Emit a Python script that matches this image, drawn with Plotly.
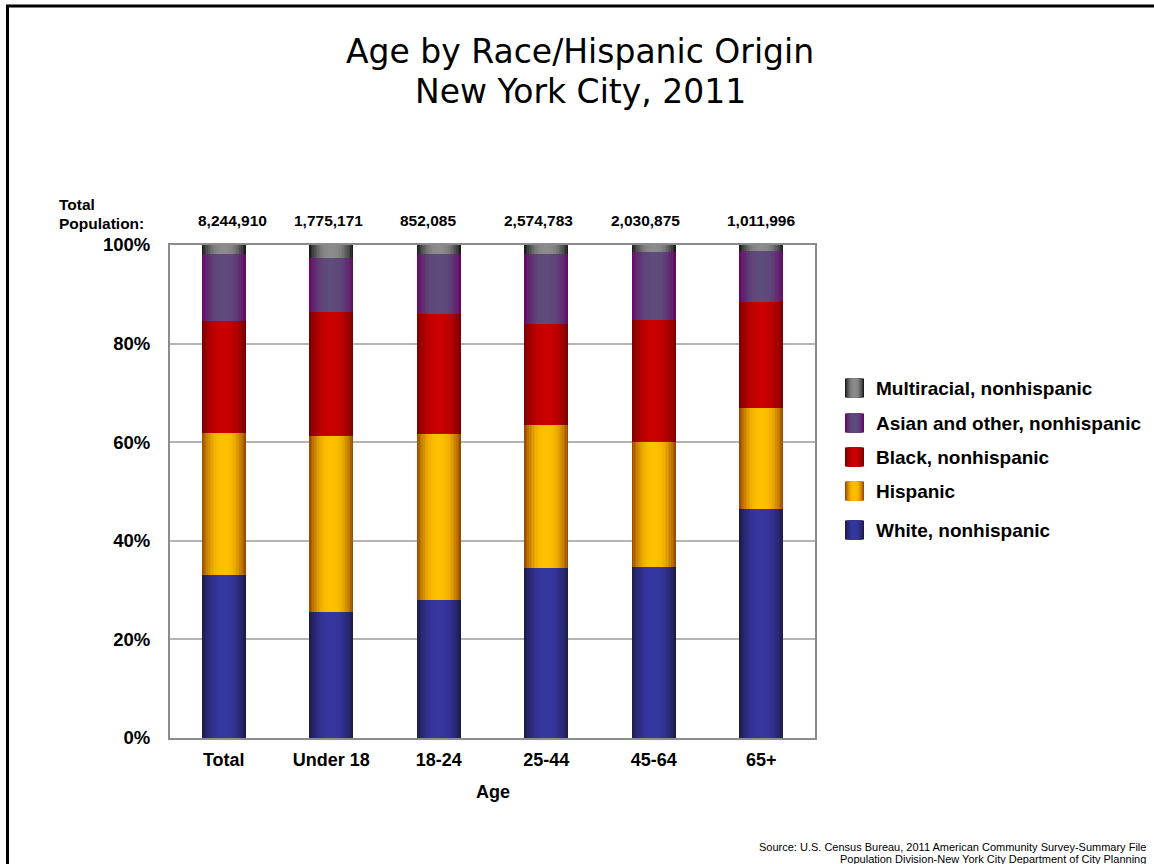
import numpy as np
import plotly.graph_objects as go

# ---- data -------------------------------------------------------------
ages = ["Total", "Under 18", "18-24", "25-44", "45-64", "65+"]
total_population = [8244910, 1775171, 852085, 2574783, 2030875, 1011996]

# percent of each age group (stacked bottom -> top)
white = [33.1, 25.6, 28.0, 34.5, 34.7, 46.4]
hispanic = [28.8, 35.7, 33.7, 29.0, 25.3, 20.5]
black = [22.7, 25.1, 24.3, 20.5, 24.8, 21.5]
asian_other = [13.6, 11.0, 12.2, 14.2, 13.8, 10.4]
multiracial = [1.8, 2.6, 1.8, 1.8, 1.4, 1.2]

series_names = [
    "White, nonhispanic",
    "Hispanic",
    "Black, nonhispanic",
    "Asian and other, nonhispanic",
    "Multiracial, nonhispanic",
]
series_values = [white, hispanic, black, asian_other, multiracial]

# edge (dark) and centre (light) colours of the cylinder shading
edge_colors = ["#1b1b4c", "#9a4c00", "#7c0000", "#640a66", "#1c1c1c"]
center_colors = ["#3636a0", "#ffc000", "#c80000", "#5e4c7c", "#8c8c8c"]

# ---- helpers ----------------------------------------------------------
def hex_to_rgb(h):
    h = h.lstrip("#")
    return np.array([int(h[i:i + 2], 16) for i in (0, 2, 4)], dtype=float)


def blend(c0, c1, f):
    a, b = hex_to_rgb(c0), hex_to_rgb(c1)
    r, g, bl = (a + (b - a) * f).round().astype(int)
    return f"rgb({r},{g},{bl})"


N_LAYERS = 14
BAR_WIDTH = 0.41


def shade_profile(half_width):
    # 0 at the outer edge, 1 at the centre, with a broad flat highlight
    return float(np.clip(1.0 - (2.0 * half_width) ** 2.6, 0.0, 1.0))


# ---- figure -----------------------------------------------------------
fig = go.Figure()

stack = np.vstack([np.array(v, dtype=float) for v in series_values])
bases = np.vstack([np.zeros(len(ages)), np.cumsum(stack, axis=0)[:-1]])

for s, name in enumerate(series_names):
    vals = stack[s]
    base = bases[s]
    for k in range(N_LAYERS):
        frac = 1.0 - k / N_LAYERS
        color = blend(edge_colors[s], center_colors[s], shade_profile(frac / 2.0))
        top = k == N_LAYERS - 1
        fig.add_trace(
            go.Bar(
                x=ages,
                y=vals,
                base=base,
                width=BAR_WIDTH * frac,
                marker=dict(color=color, line=dict(width=0)),
                name=name,
                showlegend=False,
                hovertemplate=f"{name}<br>%{{x}}: %{{y:.1f}}%<extra></extra>" if top else None,
                hoverinfo=None if top else "skip",
            )
        )

bold = dict(family="Liberation Sans, Arial, sans-serif", color="#000000", weight="bold")

# plot-area geometry in pixels (used to place paper-referenced decorations)
L, R, T, B = 170, 339, 245, 126
W_PX, H_PX = 1154, 864
PW, PH = W_PX - L - R, H_PX - T - B


def px_x(x):
    return (x - L) / PW


def px_y(y):
    return (H_PX - B - y) / PH


annotations = []

# title
title_font = dict(family="DejaVu Sans, Verdana, sans-serif", size=33, color="#000000")
annotations.append(dict(text="Age by Race/Hispanic Origin", x=px_x(580), y=px_y(52),
                        xref="paper", yref="paper", showarrow=False,
                        xanchor="center", yanchor="middle", font=title_font))
annotations.append(dict(text="New York City, 2011", x=px_x(580), y=px_y(91),
                        xref="paper", yref="paper", showarrow=False,
                        xanchor="center", yanchor="middle", font=title_font))

# total population row
annotations.append(dict(text="Total", x=px_x(57), y=px_y(204), xref="paper", yref="paper",
                        showarrow=False, xanchor="left", yanchor="middle",
                        font=dict(size=15.5, **bold)))
annotations.append(dict(text="Population:", x=px_x(57), y=px_y(223), xref="paper", yref="paper",
                        showarrow=False, xanchor="left", yanchor="middle",
                        font=dict(size=15.5, **bold)))
pop_label_shift = [9, -3, -11, -8, -8, 0]
for age, pop, dx in zip(ages, total_population, pop_label_shift):
    annotations.append(dict(text=f"{pop:,}", x=age, y=px_y(221), xref="x", yref="paper",
                            xshift=dx, showarrow=False, xanchor="center", yanchor="middle",
                            font=dict(size=15.5, **bold)))

# x-axis title
annotations.append(dict(text="Age", x=0.5, y=px_y(792), xref="paper", yref="paper",
                        showarrow=False, xanchor="center", yanchor="middle",
                        font=dict(size=18, **bold)))

# source note
src_font = dict(family="Liberation Sans, Arial, sans-serif", size=11, color="#000000")
annotations.append(dict(text="Source: U.S. Census Bureau, 2011 American Community Survey-Summary File",
                        x=px_x(1148), y=px_y(847), xref="paper", yref="paper", showarrow=False,
                        xanchor="right", yanchor="middle", font=src_font))
annotations.append(dict(text="Population Division-New York City Department of City Planning",
                        x=px_x(1148), y=px_y(859), xref="paper", yref="paper", showarrow=False,
                        xanchor="right", yanchor="middle", font=src_font))

shapes = []

# legend (top to bottom: reverse of stacking order) with shaded swatches
legend_rows = [388, 423, 457, 491, 530]
SW = 19
for row_y, s in zip(legend_rows, reversed(range(len(series_names)))):
    x0, x1 = 845, 845 + SW
    xc = (x0 + x1) / 2
    for k in range(8):
        frac = 1.0 - k / 8
        col = blend(edge_colors[s], center_colors[s], shade_profile(frac / 2.0))
        hw = SW / 2 * frac
        shapes.append(dict(type="rect", xref="paper", yref="paper",
                           x0=px_x(xc - hw), x1=px_x(xc + hw),
                           y0=px_y(row_y + SW / 2), y1=px_y(row_y - SW / 2),
                           fillcolor=col, line=dict(width=0), layer="above"))
    annotations.append(dict(text=series_names[s], x=px_x(874), y=px_y(row_y),
                            xref="paper", yref="paper", showarrow=False,
                            xanchor="left", yanchor="middle",
                            font=dict(size=19, **bold)))

# outer frame
shapes.append(dict(type="rect", xref="paper", yref="paper",
                   x0=px_x(7.5), x1=px_x(1200), y0=px_y(900), y1=px_y(6),
                   line=dict(color="#000000", width=3), fillcolor="rgba(0,0,0,0)",
                   layer="above"))

fig.update_layout(
    width=W_PX,
    height=H_PX,
    margin=dict(l=L, r=R, t=T, b=B, pad=0),
    paper_bgcolor="#ffffff",
    plot_bgcolor="#ffffff",
    barmode="overlay",
    bargap=0,
    showlegend=False,
    annotations=annotations,
    shapes=shapes,
    font=dict(family="Liberation Sans, Arial, sans-serif", color="#000000"),
)

fig.update_xaxes(
    type="category",
    categoryorder="array",
    categoryarray=ages,
    range=[-0.5, len(ages) - 0.5],
    showline=True,
    linecolor="#8c8c8c",
    linewidth=2,
    mirror=True,
    showgrid=False,
    ticks="",
    ticklabelstandoff=4,
    tickfont=dict(size=18, **bold),
)

fig.update_yaxes(
    range=[0, 100],
    tickvals=[0, 20, 40, 60, 80, 100],
    ticktext=["0%", "20%", "40%", "60%", "80%", "100%"],
    showline=True,
    linecolor="#8c8c8c",
    linewidth=2,
    mirror=True,
    showgrid=True,
    gridcolor="#b4b4b4",
    gridwidth=2,
    zeroline=False,
    ticks="",
    ticklabelstandoff=14,
    tickfont=dict(size=18.5, **bold),
)

fig.write_html("out.html")
